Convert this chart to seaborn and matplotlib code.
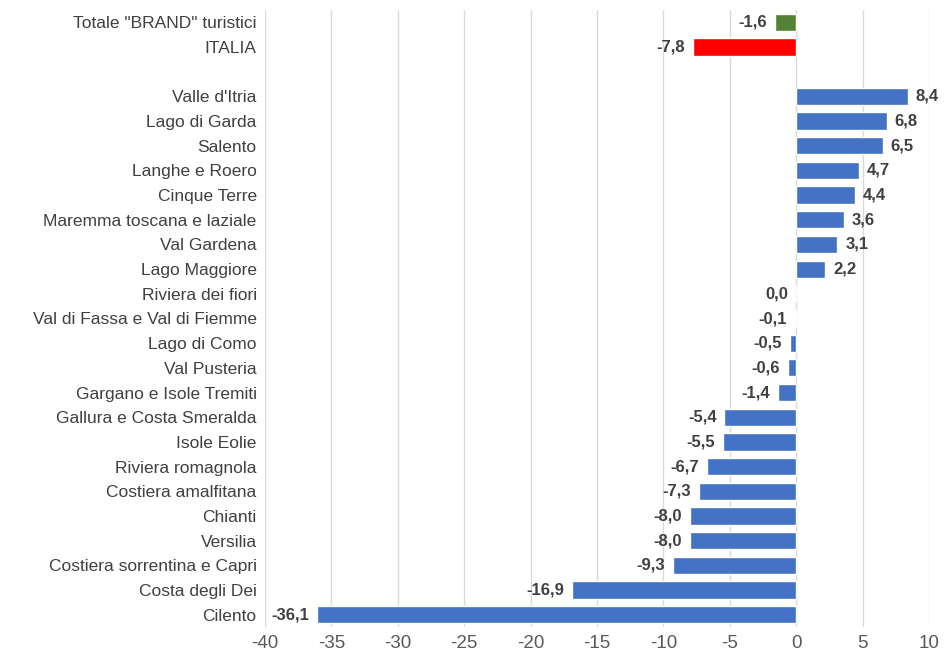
import matplotlib
matplotlib.use("Agg")
import matplotlib.pyplot as plt
import seaborn as sns
import pandas as pd
import numpy as np

categories = ['Totale "BRAND" turistici', "ITALIA", "Valle d'Itria", "Lago di Garda", "Salento",
              "Langhe e Roero", "Cinque Terre", "Maremma toscana e laziale", "Val Gardena",
              "Lago Maggiore", "Riviera dei fiori", "Val di Fassa e Val di Fiemme", "Lago di Como",
              "Val Pusteria", "Gargano e Isole Tremiti", "Gallura e Costa Smeralda", "Isole Eolie",
              "Riviera romagnola", "Costiera amalfitana", "Chianti", "Versilia",
              "Costiera sorrentina e Capri", "Costa degli Dei", "Cilento"]
values = [-1.6, -7.8, 8.4, 6.8, 6.5, 4.7, 4.4, 3.6, 3.1, 2.2, 0.0, -0.1, -0.5, -0.6, -1.4,
          -5.4, -5.5, -6.7, -7.3, -8.0, -8.0, -9.3, -16.9, -36.1]
groups = ["brand", "italia"] + ["dest"] * 22
xticks = [-40, -35, -30, -25, -20, -15, -10, -5, 0, 5, 10]

sns.set_theme(style="white")
plt.rcParams["font.family"] = ["Liberation Sans Narrow", "Liberation Sans", "DejaVu Sans"]

df = pd.DataFrame({"cat": categories, "val": values, "grp": groups})
order = categories[:2] + [" "] + categories[2:]
palette = {"brand": "#548235", "italia": "#FF0000", "dest": "#4472C4"}

fig = plt.figure(figsize=(9.46, 6.64), dpi=100)
ax = fig.add_axes([265 / 946, 1 - 627 / 664, (929 - 265) / 946, (627 - 10) / 664])
sns.barplot(data=df, x="val", y="cat", hue="grp", order=order, palette=palette,
            orient="h", dodge=False, legend=False, width=0.7, saturation=1, ax=ax)

ax.set_xlim(-40, 10)
ax.set_xticks(xticks)
ax.set_xticklabels([str(t) for t in xticks], color="#595959", fontsize=13.5)
ax.tick_params(axis="x", pad=6, length=0)
ax.tick_params(axis="y", length=0, pad=6)
for lab in ax.get_yticklabels():
    lab.set_color("#404040")
    lab.set_fontsize(12.5)
ax.set_xlabel("")
ax.set_ylabel("")
ax.grid(axis="x", color="#D9D9D9", linewidth=1)
ax.set_axisbelow(True)
for s in ax.spines.values():
    s.set_visible(False)

pos = {c: i for i, c in enumerate(order)}
for c, v in zip(categories, values):
    y = pos[c]
    txt = f"{v:.1f}".replace(".", ",")
    if v > 0:
        ax.text(v + 0.6, y, txt, ha="left", va="center", fontsize=12, fontweight="bold", color="#404040")
    else:
        ax.text(min(v, 0) - 0.6, y, txt, ha="right", va="center", fontsize=12, fontweight="bold", color="#404040")

fig.savefig("out.png", dpi=100)
